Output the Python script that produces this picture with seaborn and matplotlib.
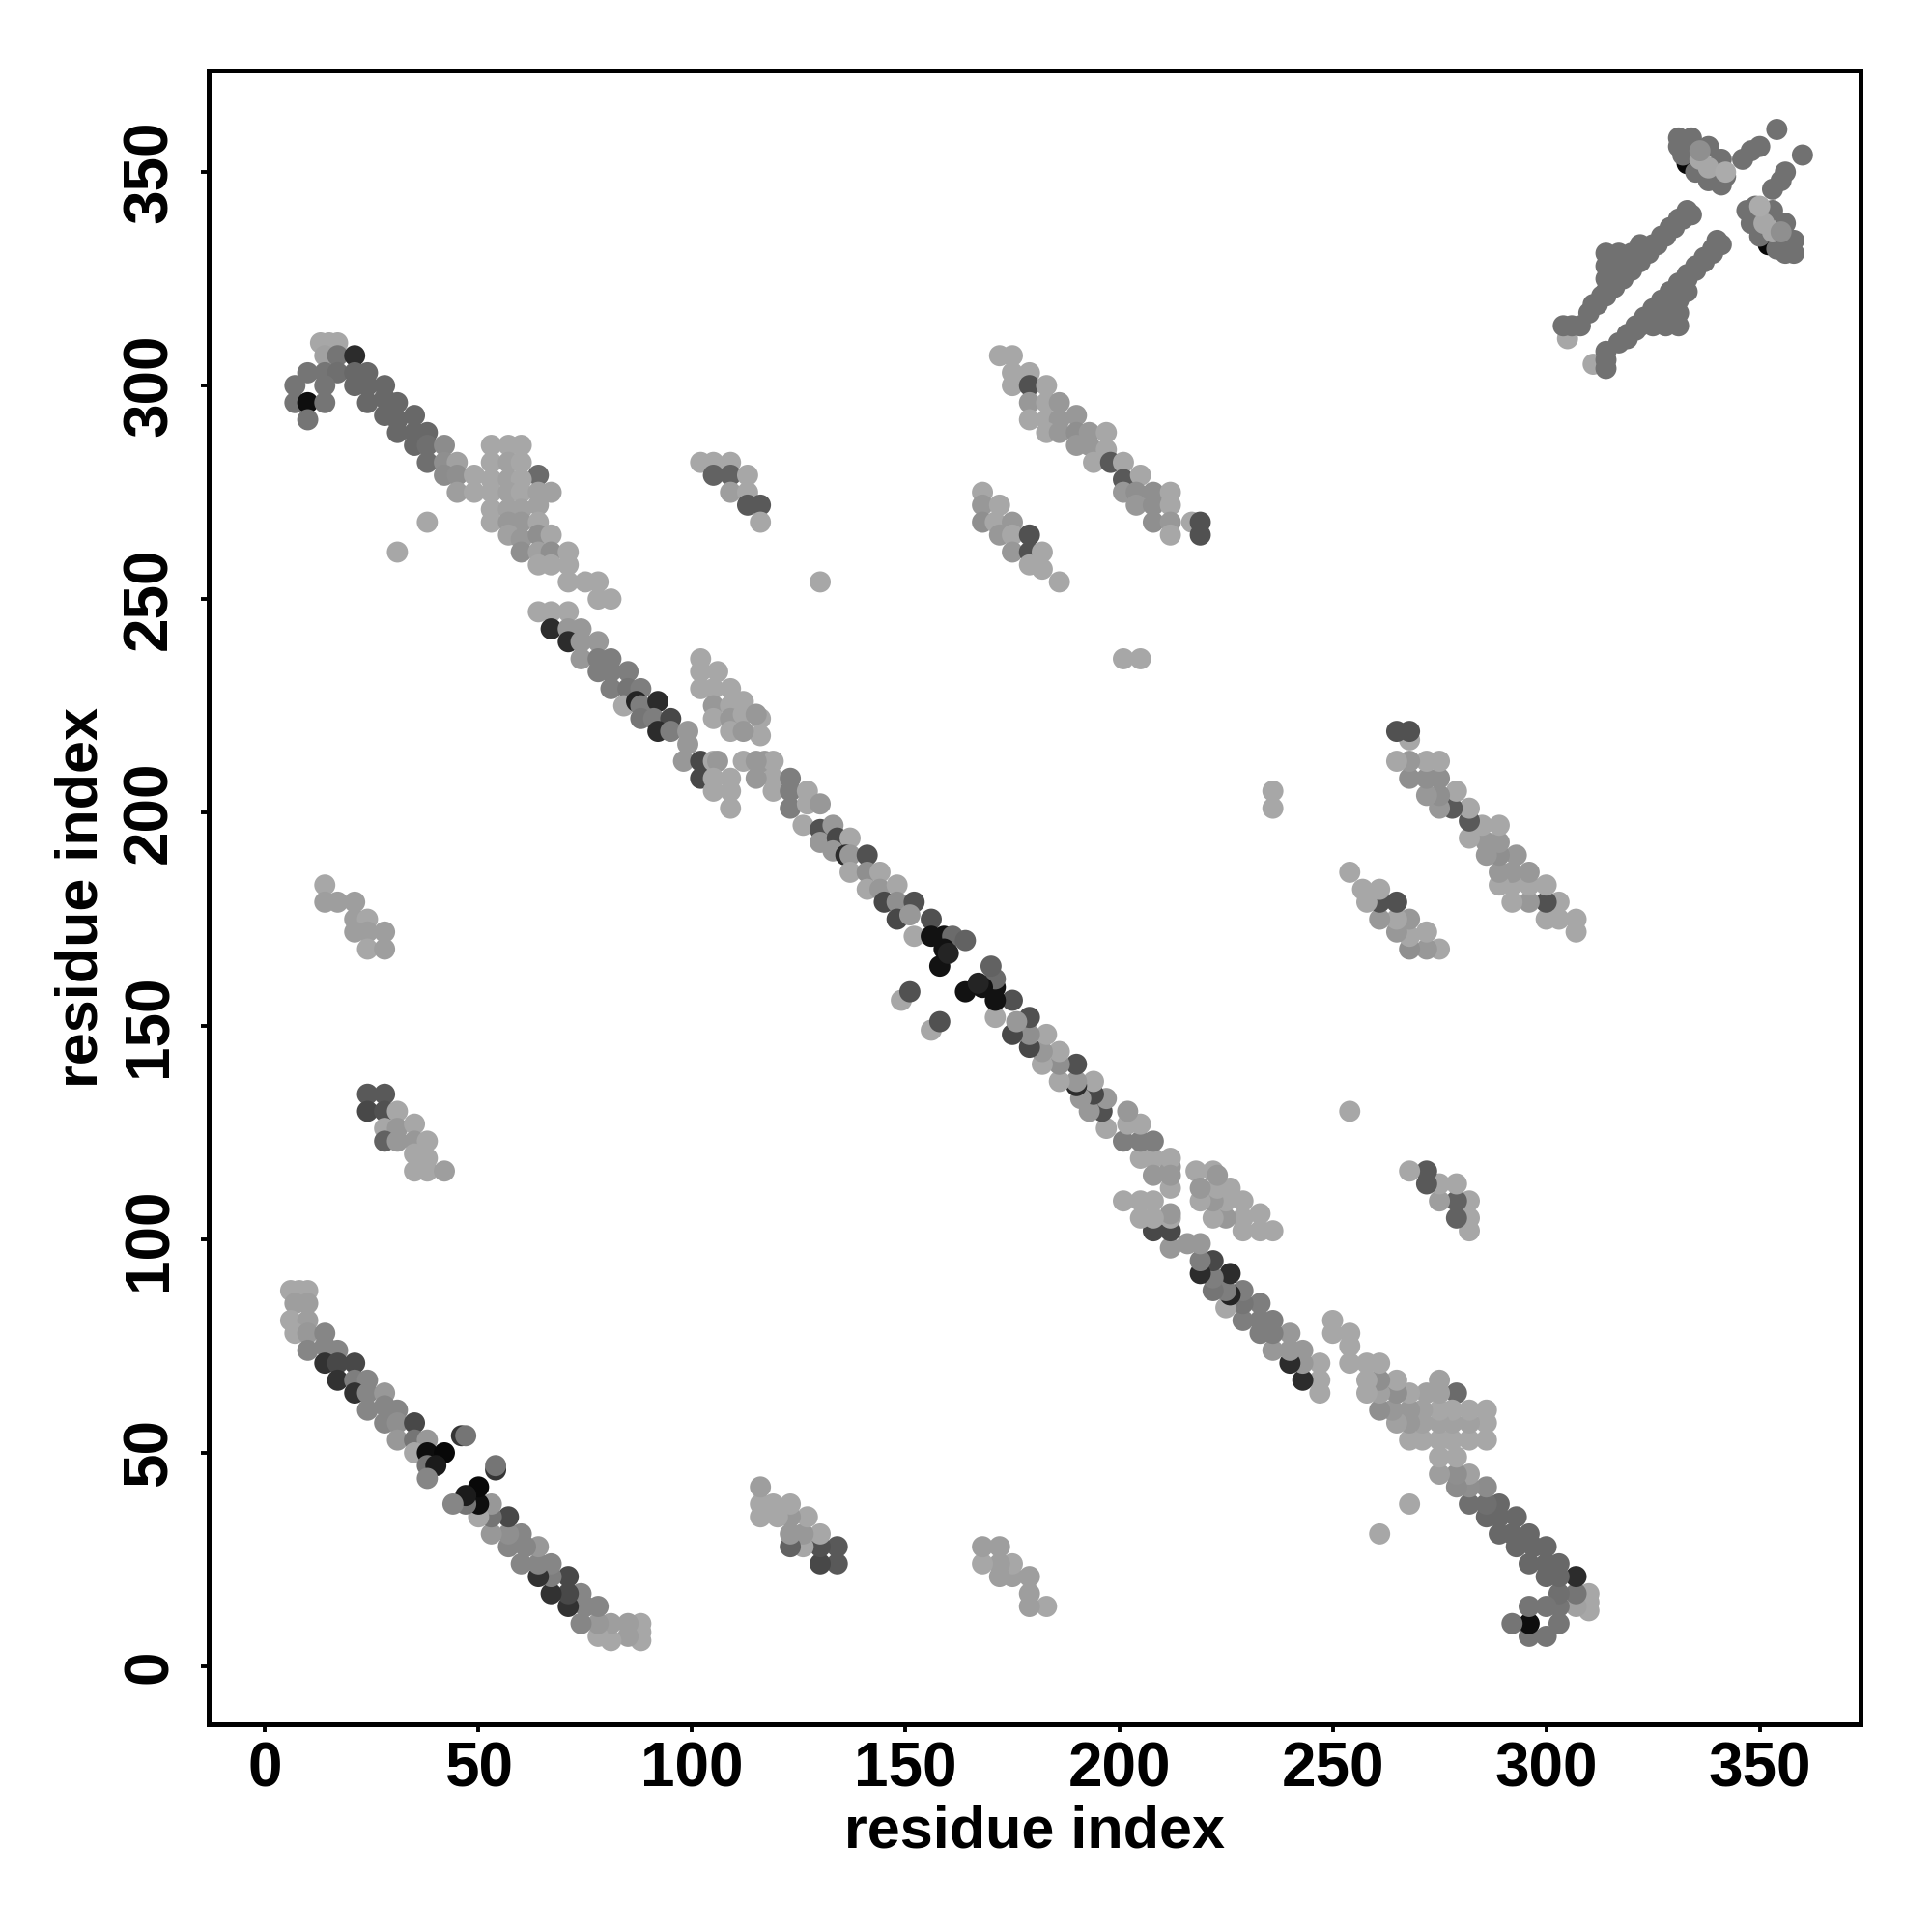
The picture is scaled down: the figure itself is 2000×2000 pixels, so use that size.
"""Residue contact map: symmetric scatter of predicted contacts, shaded by probability"""
import pandas as pd
import seaborn as sns
import matplotlib.pyplot as plt
from matplotlib.colors import LinearSegmentedColormap

n_hairpin = [
    (6, 88, .07), (8, 88, .07), (10, 88, .07), (7, 85, .12), (10, 85, .12), (6, 81, .07),
    (10, 81, .12), (7, 78, .07), (10, 78, .15), (14, 78, .25), (10, 74, .25), (14, 75, .25),
    (17, 74, .25), (14, 71, .72), (17, 71, .6), (21, 71, .6), (17, 67, .72), (21, 67, .3),
    (24, 67, .25), (21, 64, .72), (24, 64, .25), (28, 64, .15), (24, 60, .25), (28, 61, .25),
    (31, 60, .25), (28, 57, .25), (31, 57, .2), (35, 57, .6), (31, 53, .15), (35, 53, .35),
    (38, 53, .15), (35, 50, .07), (38, 50, .92), (42, 50, .95), (38, 47, .35), (40, 47, .85),
    (38, 44, .25), (46, 54, .7), (47, 54, .35),
]

c_term_pair = [
    (13, 310, .07), (15, 310, .07), (17, 310, .07), (14, 307, .1), (17, 307, .35), (21, 307, .75),
    (10, 303, .35), (14, 303, .35), (17, 303, .38), (21, 303, .42), (24, 303, .42),
    (7, 300, .35), (14, 300, .35), (21, 300, .42), (24, 300, .42), (28, 300, .42),
    (7, 296, .35), (10, 296, .92), (14, 296, .35), (24, 296, .42), (28, 297, .42), (31, 296, .42),
    (10, 292, .35), (28, 293, .42), (31, 292, .42), (35, 293, .42),
    (31, 289, .42), (35, 289, .42), (38, 289, .42),
    (35, 286, .42), (38, 286, .38), (42, 286, .22),
    (38, 282, .38), (42, 282, .2), (45, 282, .1),
    (42, 279, .22), (45, 279, .2), (49, 279, .07), (45, 275, .12), (49, 275, .07),
]

sheet_block = [
    (53, 286, .07), (57, 286, .07), (60, 286, .07), (53, 282, .07), (57, 282, .1), (60, 282, .07),
    (64, 279, .4), (53, 278, .07), (57, 278, .1), (60, 278, .07), (53, 275, .07), (57, 275, .1),
    (60, 275, .07), (64, 275, .1), (67, 275, .1), (53, 271, .07), (57, 271, .1), (60, 271, .1),
    (64, 272, .1), (53, 268, .07), (57, 268, .15), (60, 268, .15), (64, 268, .07), (57, 265, .1),
    (60, 264, .15), (64, 265, .2), (67, 265, .07), (60, 261, .2), (64, 261, .1), (67, 261, .2),
    (71, 261, .07), (64, 258, .07), (67, 258, .07), (71, 258, .07), (71, 254, .07), (75, 254, .07),
    (78, 254, .07), (78, 250, .07), (81, 250, .07), (38, 268, .07), (31, 261, .07),
]

main_strand_a = [
    (64, 247, .07), (67, 247, .07), (71, 247, .07),
    (67, 243, .75), (71, 243, .15), (74, 243, .15), (71, 240, .75), (74, 240, .15), (78, 240, .15),
    (74, 236, .15), (78, 236, .3), (81, 236, .3), (78, 233, .3), (81, 233, .3), (85, 233, .3),
    (81, 229, .3), (85, 229, .35), (88, 229, .3), (84, 225, .07), (87, 226, .8), (88, 225, .3),
    (92, 226, .75), (88, 222, .35), (91, 222, .3), (95, 222, .6), (92, 219, .75), (95, 219, .3),
    (99, 219, .15), (99, 216, .15), (98, 212, .15), (102, 212, .6), (105, 212, .07), (106, 212, .15),
    (102, 208, .6), (105, 208, .07), (109, 208, .07), (105, 205, .07), (109, 205, .07), (109, 201, .07),
]

main_strand_b = [
    (116, 222, .07), (116, 218, .07), (117, 212, .15), (119, 212, .07), (119, 208, .07),
    (119, 205, .07), (123, 208, .3), (123, 205, .3), (123, 201, .3), (127, 205, .07),
    (127, 202, .07), (126, 197, .07), (130, 202, .15), (130, 196, .55), (130, 193, .15),
    (133, 197, .15), (134, 194, .6), (133, 191, .15), (137, 194, .07), (136, 190, .75),
    (137, 190, .15), (137, 186, .07), (141, 190, .55), (141, 186, .2), (141, 182, .07),
    (144, 186, .07), (144, 182, .15), (145, 179, .6), (148, 183, .07), (148, 179, .2),
    (148, 175, .6), (152, 179, .55), (151, 176, .15), (152, 171, .07), (156, 175, .55),
    (156, 171, .9), (159, 171, .9), (161, 171, .4), (164, 170, .45), (159, 168, .9),
    (158, 164, .9), (160, 167, .8), (149, 156, .07), (151, 158, .55),
]

side_strand = [
    (102, 236, .07), (102, 233, .07), (106, 233, .07), (102, 229, .07), (105, 229, .07),
    (109, 229, .07), (105, 225, .15), (109, 225, .07), (112, 226, .07), (105, 222, .07),
    (109, 222, .15), (112, 223, .07), (115, 223, .15), (109, 219, .07), (112, 219, .15),
    (112, 212, .07), (115, 212, .15), (115, 208, .15),
    (102, 282, .07), (105, 282, .07), (109, 282, .07), (105, 279, .45), (109, 279, .45),
    (113, 279, .07), (109, 275, .12), (113, 275, .07), (113, 272, .5), (116, 272, .5), (116, 268, .07),
]

mid_pairs = [
    (172, 307, .07), (175, 307, .07), (175, 303, .07), (179, 303, .07), (175, 300, .07),
    (179, 300, .55), (183, 300, .07), (179, 296, .15), (183, 296, .07), (186, 296, .15),
    (179, 292, .07), (183, 292, .07), (186, 292, .15), (190, 293, .15), (183, 289, .07),
    (186, 289, .15), (190, 289, .2), (193, 289, .15), (197, 289, .07), (190, 286, .15),
    (193, 286, .15), (197, 285, .07), (194, 282, .07), (198, 282, .5), (201, 282, .07),
    (201, 278, .5), (205, 279, .07), (201, 275, .15), (204, 275, .2), (208, 275, .2),
    (212, 275, .07), (204, 272, .15), (208, 272, .2), (212, 272, .07), (208, 268, .2),
    (212, 268, .15), (212, 265, .07), (217, 268, .07), (219, 268, .55), (219, 265, .55),
    (168, 275, .07), (168, 272, .15), (172, 272, .07), (168, 268, .2), (171, 268, .07),
    (175, 268, .15), (172, 265, .15), (175, 265, .07), (179, 265, .55), (175, 261, .15),
    (179, 261, .55), (182, 261, .07), (179, 258, .07), (182, 257, .07), (186, 254, .07),
    (130, 254, .07), (201, 236, .07), (205, 236, .07),
]

n_term_contacts = [
    (14, 183, .07), (14, 179, .12), (17, 179, .12), (21, 179, .12), (21, 175, .12),
    (24, 175, .07), (21, 172, .12), (24, 172, .12), (28, 172, .12), (24, 168, .07), (28, 168, .12),
    (24, 134, .5), (28, 134, .5), (24, 130, .6), (28, 130, .55), (28, 126, .07), (31, 130, .07),
    (31, 126, .15), (28, 123, .45), (31, 123, .15), (35, 127, .07), (35, 123, .15), (38, 123, .07),
    (35, 120, .07), (38, 119, .07), (35, 116, .07), (38, 116, .07), (42, 116, .12),
]

helix = [
    (305, 311, .07), (304, 314, .37), (306, 314, .37), (308, 314, .37),
    (310, 317, .37), (312, 319, .37), (314, 321, .37), (316, 323, .37), (318, 325, .37),
    (320, 327, .37), (322, 329, .37), (324, 331, .37), (326, 333, .37), (328, 335, .37),
    (330, 337, .37), (332, 339, .37), (334, 340, .37),
    (311, 319, .37), (313, 321, .37), (315, 323, .37), (317, 325, .37), (319, 327, .37),
    (321, 329, .37), (323, 331, .37), (325, 333, .37), (327, 335, .37), (329, 337, .37),
    (331, 339, .37), (333, 341, .37),
    (314, 331, .37), (317, 331, .37), (320, 331, .37), (314, 328, .37), (317, 328, .37),
    (320, 329, .37), (314, 325, .37), (317, 326, .37), (314, 322, .37), (322, 333, .37),
]

c_term_hairpin = [
    (333, 352, .95), (331, 358, .37), (334, 358, .37), (338, 356, .37), (341, 353, .37),
    (342, 349, .37), (341, 347, .37), (338, 348, .37), (335, 350, .37), (332, 354, .37),
    (331, 356, .37), (336, 353, .07), (338, 351, .07), (336, 355, .2), (342, 350, .05),
    (346, 353, .37), (348, 355, .37), (350, 356, .37), (354, 360, .37),
]

clusters = [n_hairpin, c_term_pair, sheet_block, main_strand_a, main_strand_b,
            side_strand, mid_pairs, n_term_contacts, helix, c_term_hairpin]

upper = pd.DataFrame([c for cl in clusters for c in cl], columns=['i', 'j', 'prob'])
lower = upper.rename(columns={'i': 'j', 'j': 'i'})
contacts = pd.concat([upper, lower], ignore_index=True)

sns.set_theme(style='ticks')
plt.rcParams['font.family'] = ['Liberation Sans', 'DejaVu Sans']
plt.rcParams.update({'text.color': 'black', 'axes.labelcolor': 'black',
                     'xtick.color': 'black', 'ytick.color': 'black'})

fig = plt.figure(figsize=(10, 10), dpi=200)
ax = fig.add_axes([0.108, 0.1075, 0.855, 0.856])

grays = LinearSegmentedColormap.from_list('contact', ['#b3b3b3', '#000000'])
sns.scatterplot(data=contacts, x='i', y='j', hue='prob', palette=grays, hue_norm=(0, 1),
                s=62, linewidth=0, legend=False, ax=ax)

ax.set_xlim(-13.2, 373.6)
ax.set_ylim(-13.6, 373.8)
ticks = [0, 50, 100, 150, 200, 250, 300, 350]
ax.set_xticks(ticks)
ax.set_yticks(ticks)
ax.set_xticklabels([str(t) for t in ticks], fontsize=23, fontweight='bold')
ax.set_yticklabels([str(t) for t in ticks], fontsize=23, fontweight='bold',
                   rotation=90, va='center')
ax.tick_params(axis='both', direction='out', length=2.9, width=1.4, color='black',
               labelcolor='black')
ax.tick_params(axis='x', pad=3.5)
ax.tick_params(axis='y', pad=8)
for sp in ax.spines.values():
    sp.set_visible(True)
    sp.set_linewidth(1.8)
    sp.set_color('black')

ax.set_xlabel('residue index', fontsize=22, fontweight='bold', color='black')
ax.set_ylabel('residue index', fontsize=22, fontweight='bold', color='black')
ax.xaxis.label.set_va('center')
ax.yaxis.label.set_va('center')
ax.xaxis.set_label_coords(0.5, -0.0654)
ax.yaxis.set_label_coords(-0.0766, 0.5)

fig.savefig('out.png', dpi=200, facecolor='white')
plt.close(fig)
